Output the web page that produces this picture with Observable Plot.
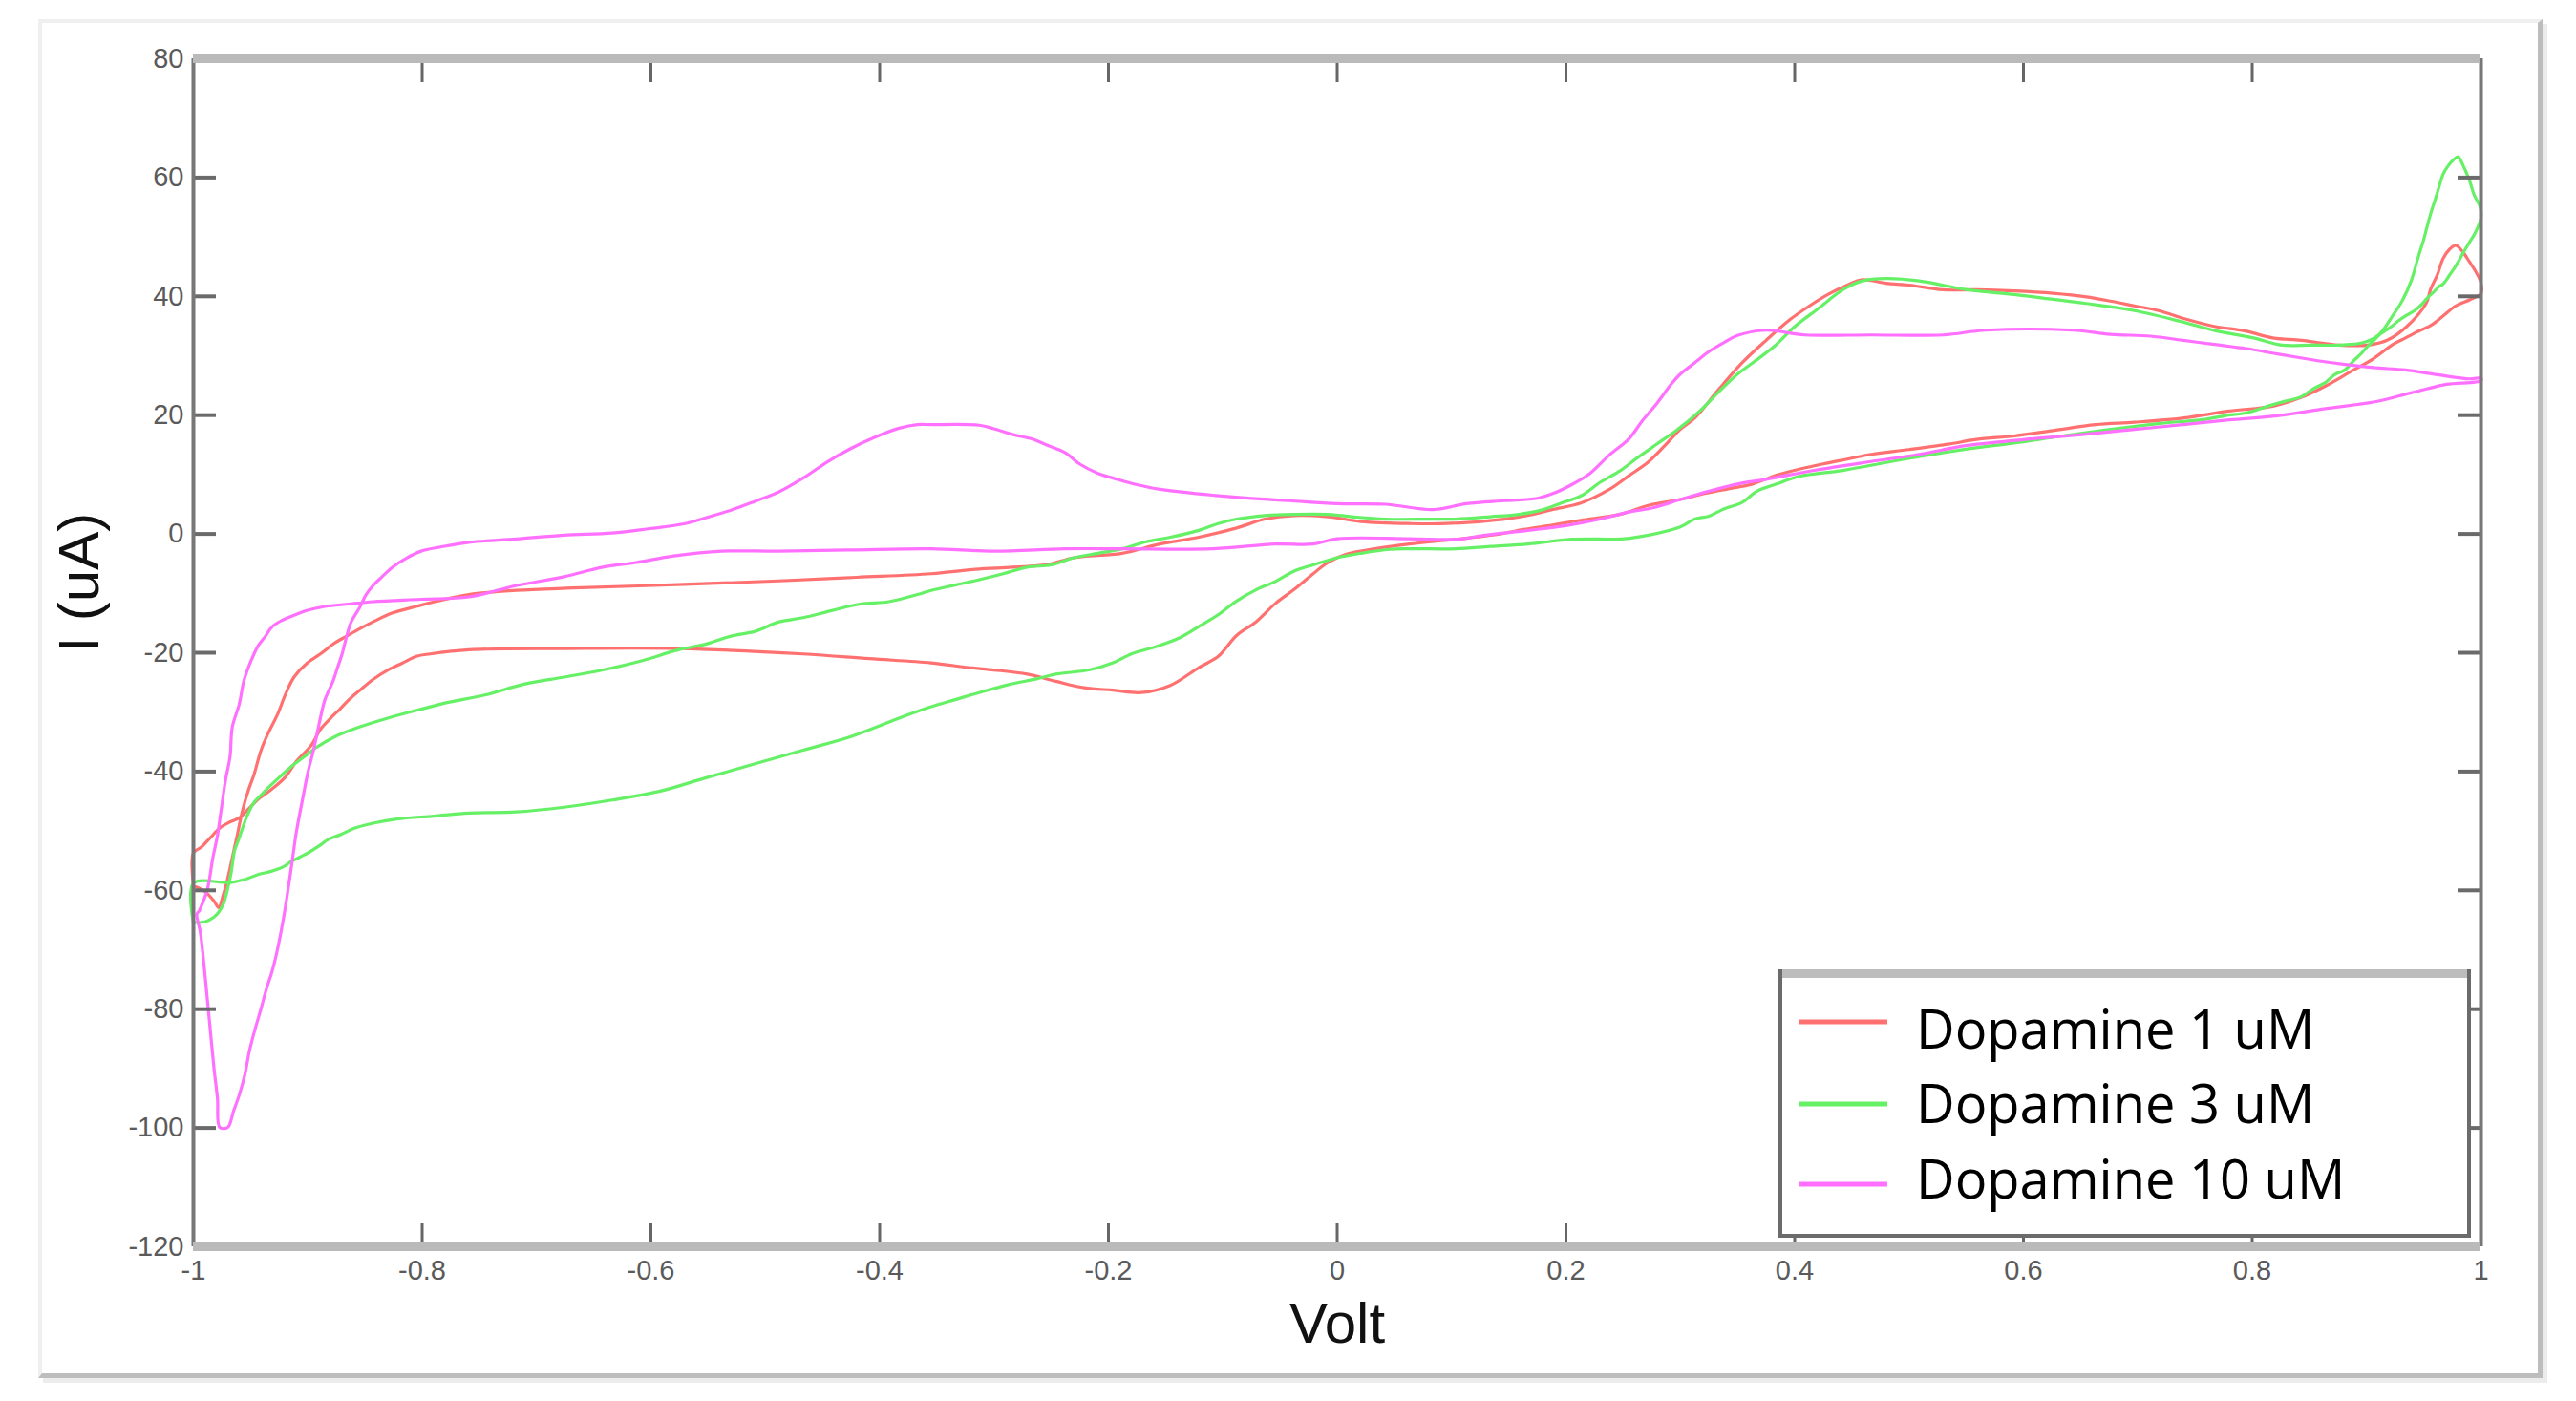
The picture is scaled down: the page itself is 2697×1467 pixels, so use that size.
<!DOCTYPE html>
<html>
<head>
<meta charset="utf-8">
<script src="https://cdn.jsdelivr.net/npm/d3@7"></script>
<script src="https://cdn.jsdelivr.net/npm/@observablehq/plot@0.6"></script>
<style>
html, body { margin: 0; padding: 0; background: #fff; width: 2697px; height: 1467px; overflow: hidden; }
#wrap { position: relative; width: 2697px; height: 1467px; }
#frame { position: absolute; left: 40px; top: 20px; width: 2622px; height: 1423px; box-sizing: border-box;
  border-top: 4px solid #efefef; border-left: 4px solid #efefef; border-right: 5px solid #bdbdbd; border-bottom: 5px solid #bdbdbd;
  box-shadow: 5px 5px 0 #ececec; }
#chart { position: absolute; left: 0; top: 0; }
#legend { position: absolute; left: 1862px; top: 1015px; }
</style>
</head>
<body>
<div id="wrap">
  <div id="frame"></div>
  <div id="chart"></div>
  <div id="legend"></div>
</div>
<script>
// ---------- data (Volt, current in uA), each series traced in sweep order ----------
const seriesNames = ["Dopamine 1 uM", "Dopamine 3 uM", "Dopamine 10 uM"];
const seriesColors = ["#ff7070", "#66f066", "#ff70ff"];

const red1uM = [
  [-0.998,-59.4],[-0.99,-60.2],[-0.982,-61.8],[-0.978,-62.9],[-0.974,-60.8],[-0.970,-58.0],[-0.966,-54.5],[-0.962,-51.0],
  [-0.957,-46.5],[-0.952,-43.2],[-0.947,-40.5],[-0.941,-36.5],[-0.935,-33.7],[-0.926,-30.2],[-0.920,-27.2],[-0.912,-24.1],
  [-0.901,-21.8],[-0.889,-20.2],[-0.876,-18.3],[-0.866,-17.2],[-0.855,-16.0],[-0.843,-14.8],[-0.826,-13.3],[-0.805,-12.2],
  [-0.789,-11.4],[-0.759,-10.2],[-0.718,-9.5],[-0.668,-9.1],[-0.571,-8.5],[-0.488,-7.9],[-0.420,-7.3],[-0.355,-6.7],
  [-0.313,-5.9],[-0.255,-5.2],[-0.230,-4.0],[-0.188,-3.25],[-0.155,-1.7],[-0.121,-0.55],[-0.088,1.0],[-0.063,2.5],
  [-0.038,3.1],[-0.008,2.9],[0.021,2.1],[0.063,1.75],[0.096,1.75],[0.146,2.5],[0.171,3.3],[0.188,4.1],[0.213,5.2],
  [0.238,7.5],[0.255,9.8],[0.272,12.1],[0.288,15.2],[0.300,17.6],[0.3125,19.5],[0.333,24.2],[0.354,28.8],[0.375,32.6],
  [0.396,36.1],[0.413,38.4],[0.429,40.3],[0.446,41.9],[0.459,42.8],[0.480,42.2],[0.500,41.9],[0.530,41.1],[0.559,41.1],
  [0.592,40.9],[0.626,40.5],[0.655,39.9],[0.676,39.2],[0.697,38.4],[0.718,37.6],[0.743,36.1],[0.768,34.9],[0.793,34.2],
  [0.818,33.0],[0.843,32.6],[0.876,31.8],[0.901,31.8],[0.918,32.6],[0.935,34.9],[0.952,38.8],[0.956,41.2],[0.962,43.7],
  [0.967,46.4],[0.973,48.0],[0.978,48.6],[0.984,47.5],[0.990,45.8],[0.995,44.3],[1.000,42.3],
  [1.000,40.5],[0.990,39.4],[0.978,38.4],[0.967,36.7],[0.956,35.1],[0.945,34.1],[0.934,33.0],[0.923,31.9],[0.906,29.5],
  [0.885,27.2],[0.864,24.9],[0.843,23.0],[0.818,21.5],[0.780,20.7],[0.739,19.5],[0.697,18.8],[0.663,18.4],[0.626,17.4],
  [0.592,16.5],[0.559,15.9],[0.534,15.1],[0.500,14.2],[0.467,13.4],[0.446,12.6],[0.425,11.8],[0.404,10.9],[0.384,9.9],
  [0.363,8.4],[0.342,7.6],[0.321,6.8],[0.300,5.8],[0.272,4.8],[0.247,3.3],[0.213,2.3],[0.188,1.5],[0.163,0.75],[0.142,0],
  [0.104,-0.9],[0.063,-1.7],[0.033,-2.5],[0.008,-3.4],[-0.008,-4.8],[-0.021,-6.7],[-0.038,-9.4],[-0.054,-11.7],
  [-0.071,-14.8],[-0.088,-17.1],[-0.104,-20.6],[-0.121,-22.5],[-0.146,-25.5],[-0.171,-26.7],[-0.196,-26.3],[-0.221,-25.9],
  [-0.246,-24.8],[-0.271,-23.6],[-0.300,-22.9],[-0.322,-22.5],[-0.355,-21.7],[-0.409,-21.0],[-0.467,-20.2],[-0.576,-19.3],
  [-0.676,-19.3],[-0.759,-19.5],[-0.793,-20.2],[-0.805,-20.6],[-0.818,-21.8],[-0.830,-22.9],[-0.843,-24.5],[-0.855,-26.4],
  [-0.864,-27.9],[-0.872,-29.5],[-0.880,-31.0],[-0.889,-32.9],[-0.897,-35.6],[-0.910,-38.3],[-0.920,-41.0],[-0.933,-43.2],
  [-0.943,-44.6],[-0.960,-47.8],[-0.968,-48.5],[-0.977,-49.5],[-0.985,-51.1],[-0.993,-52.7],[-1.000,-53.7],[-1.000,-59.0]
];

const green3uM = [
  [-1.000,-65.4],[-0.990,-65.3],[-0.982,-64.5],[-0.978,-63.7],[-0.974,-62.4],[-0.970,-59.7],[-0.967,-57.0],[-0.964,-53.3],
  [-0.961,-51.7],[-0.957,-49.5],[-0.953,-47.4],[-0.947,-45.2],[-0.940,-43.8],[-0.935,-42.8],[-0.925,-41.0],[-0.914,-39.1],
  [-0.903,-37.5],[-0.893,-36.0],[-0.876,-34.1],[-0.855,-32.5],[-0.830,-31.0],[-0.801,-29.5],[-0.776,-28.3],[-0.747,-27.2],
  [-0.709,-25.2],[-0.676,-24.1],[-0.642,-22.9],[-0.609,-21.4],[-0.576,-19.5],[-0.551,-18.5],[-0.530,-17.2],[-0.509,-16.4],
  [-0.488,-14.8],[-0.467,-14.1],[-0.442,-12.9],[-0.417,-11.8],[-0.392,-11.4],[-0.367,-10.2],[-0.355,-9.5],[-0.334,-8.6],
  [-0.313,-7.7],[-0.292,-6.7],[-0.271,-5.6],[-0.250,-5.2],[-0.230,-4.0],[-0.209,-3.25],[-0.188,-2.5],[-0.167,-1.3],
  [-0.146,-0.55],[-0.121,0.6],[-0.104,1.75],[-0.088,2.5],[-0.063,3.1],[-0.038,3.3],[-0.008,3.3],[0.013,2.9],[0.042,2.5],
  [0.084,2.5],[0.104,2.5],[0.134,2.9],[0.159,3.3],[0.180,4.1],[0.196,5.2],[0.213,6.4],[0.230,8.7],[0.247,10.6],
  [0.263,12.9],[0.280,15.2],[0.297,17.5],[0.317,20.7],[0.333,23.8],[0.350,26.9],[0.371,29.9],[0.384,31.9],[0.400,34.9],
  [0.421,38.0],[0.442,41.1],[0.459,42.6],[0.480,43.0],[0.509,42.6],[0.551,41.1],[0.592,40.3],[0.626,39.5],[0.655,38.8],
  [0.697,37.6],[0.739,35.7],[0.768,34.2],[0.801,33.0],[0.826,31.8],[0.851,31.8],[0.876,31.8],[0.897,32.2],[0.910,33.4],
  [0.922,36.5],[0.931,39.2],[0.939,42.6],[0.945,46.5],[0.950,49.6],[0.953,51.8],[0.956,53.9],[0.960,56.3],[0.963,58.2],
  [0.967,60.6],[0.971,61.9],[0.976,63.0],[0.980,63.5],[0.984,62.2],[0.990,59.5],[0.994,57.1],[0.999,55.2],[1.000,54.4],
  [1.000,53.1],[0.995,50.7],[0.990,49.1],[0.985,47.5],[0.981,46.1],[0.977,44.8],[0.973,43.7],[0.967,42.1],[0.963,41.6],
  [0.959,40.8],[0.953,39.7],[0.948,38.6],[0.942,37.6],[0.935,36.8],[0.928,35.9],[0.923,35.1],[0.917,34.3],[0.911,33.5],
  [0.906,32.5],[0.900,31.4],[0.895,30.3],[0.889,29.2],[0.881,27.6],[0.872,26.8],[0.864,25.5],[0.853,24.4],[0.843,23.1],
  [0.828,22.3],[0.817,21.7],[0.795,20.4],[0.776,19.9],[0.759,19.3],[0.720,18.6],[0.676,17.6],[0.634,16.5],[0.592,15.3],
  [0.551,14.3],[0.496,12.6],[0.442,10.7],[0.404,9.7],[0.384,8.4],[0.367,7.2],[0.354,5.3],[0.338,4.2],[0.325,3.0],
  [0.3125,2.5],[0.300,1.2],[0.272,-0.2],[0.251,-0.8],[0.205,-0.9],[0.167,-1.7],[0.134,-2.1],[0.104,-2.5],[0.063,-2.5],
  [0.046,-2.6],[0.021,-3.25],[0.000,-4.0],[-0.021,-5.2],[-0.038,-6.3],[-0.054,-8.0],[-0.071,-9.4],[-0.088,-11.3],
  [-0.104,-13.6],[-0.121,-15.6],[-0.138,-17.5],[-0.159,-19.0],[-0.180,-20.2],[-0.196,-21.7],[-0.217,-22.9],[-0.246,-23.6],
  [-0.263,-24.4],[-0.288,-25.4],[-0.313,-26.7],[-0.334,-27.9],[-0.355,-29.1],[-0.383,-31.0],[-0.425,-34.1],[-0.467,-36.4],
  [-0.509,-38.7],[-0.551,-41.0],[-0.592,-43.3],[-0.634,-44.8],[-0.676,-46.0],[-0.718,-46.8],[-0.759,-47.0],[-0.790,-47.5],
  [-0.822,-48.0],[-0.843,-48.7],[-0.860,-49.6],[-0.871,-50.6],[-0.882,-51.4],[-0.890,-52.5],[-0.899,-53.6],[-0.907,-54.4],
  [-0.915,-55.2],[-0.921,-56.0],[-0.932,-56.8],[-0.943,-57.3],[-0.954,-58.1],[-0.968,-58.7],[-1.000,-58.8],[-1.000,-65.4]
];

const magenta10uM = [
  [-0.995,-63.5],[-0.988,-60.0],[-0.983,-54.5],[-0.979,-50.8],[-0.976,-46.8],[-0.972,-41.5],[-0.968,-37.5],[-0.966,-32.5],
  [-0.960,-28.7],[-0.956,-24.8],[-0.952,-22.5],[-0.947,-20.2],[-0.943,-18.7],[-0.937,-17.2],[-0.931,-15.6],[-0.922,-14.5],
  [-0.912,-13.7],[-0.901,-12.9],[-0.885,-12.2],[-0.864,-11.8],[-0.843,-11.4],[-0.801,-11.0],[-0.759,-10.6],[-0.718,-8.7],
  [-0.676,-7.2],[-0.642,-5.6],[-0.613,-4.8],[-0.580,-3.7],[-0.538,-2.9],[-0.488,-2.9],[-0.425,-2.7],[-0.355,-2.5],
  [-0.300,-2.9],[-0.238,-2.5],[-0.188,-2.5],[-0.109,-2.5],[-0.054,-1.7],[-0.021,-1.7],[0.000,-0.8],[0.063,-0.8],
  [0.104,-0.9],[0.130,-0.2],[0.167,0.6],[0.200,1.4],[0.230,2.5],[0.255,3.7],[0.276,4.4],[0.300,5.8],[0.325,7.2],
  [0.350,8.4],[0.375,9.2],[0.417,10.7],[0.467,12.2],[0.509,13.4],[0.551,14.9],[0.613,16.1],[0.655,16.8],[0.697,17.6],
  [0.739,18.4],[0.780,19.2],[0.822,19.9],[0.864,21.1],[0.906,22.2],[0.928,23.2],[0.950,24.3],[0.970,25.2],[1.000,25.8],
  [1.000,26.2],[0.990,26.1],[0.962,26.8],[0.934,27.6],[0.906,28.0],[0.878,28.6],[0.850,29.4],[0.822,30.3],[0.795,31.2],
  [0.767,31.9],[0.739,32.6],[0.711,33.3],[0.676,33.6],[0.643,34.3],[0.567,34.3],[0.530,33.5],[0.467,33.5],[0.409,33.5],
  [0.375,34.3],[0.350,33.4],[0.338,32.2],[0.325,30.7],[0.3125,28.8],[0.300,26.9],[0.292,25.2],[0.280,22.1],[0.267,19.1],
  [0.255,16.0],[0.238,13.3],[0.221,10.2],[0.205,8.3],[0.188,6.75],[0.175,6.0],[0.146,5.6],[0.113,5.1],[0.084,4.1],
  [0.042,5.0],[0.000,5.1],[-0.042,5.6],[-0.083,6.1],[-0.121,6.75],[-0.155,7.5],[-0.175,8.3],[-0.192,9.2],[-0.209,10.2],
  [-0.225,11.75],[-0.238,13.7],[-0.255,15.05],[-0.267,16.0],[-0.284,16.75],[-0.300,17.7],[-0.313,18.3],[-0.355,18.4],
  [-0.367,18.4],[-0.383,17.8],[-0.404,16.3],[-0.425,14.4],[-0.446,12.1],[-0.467,9.4],[-0.488,7.1],[-0.509,5.5],
  [-0.530,4.0],[-0.551,2.8],[-0.571,1.7],[-0.601,0.9],[-0.634,0.15],[-0.676,-0.2],[-0.718,-0.85],[-0.759,-1.4],
  [-0.784,-2.2],[-0.801,-2.9],[-0.814,-4.1],[-0.826,-5.6],[-0.835,-7.2],[-0.843,-8.7],[-0.849,-10.2],[-0.855,-12.5],
  [-0.862,-14.8],[-0.866,-17.2],[-0.870,-20.2],[-0.874,-22.5],[-0.878,-24.8],[-0.885,-27.9],[-0.889,-31.0],[-0.895,-36.4],
  [-0.900,-40.2],[-0.904,-44.1],[-0.910,-50.2],[-0.914,-55.6],[-0.920,-63.3],[-0.926,-69.5],[-0.931,-73.5],[-0.936,-76.5],
  [-0.941,-80.0],[-0.946,-83.3],[-0.951,-87.0],[-0.955,-91.0],[-0.960,-94.5],[-0.965,-97.2],[-0.970,-99.9],[-0.977,-99.9],
  [-0.979,-95.0],[-0.982,-90.0],[-0.985,-84.0],[-0.988,-78.0],[-0.991,-72.0],[-0.994,-67.0],[-0.997,-64.0],[-0.995,-63.5]
];

const xTicks = [-1, -0.8, -0.6, -0.4, -0.2, 0, 0.2, 0.4, 0.6, 0.8, 1];
const xTickLabels = ["-1", "-0.8", "-0.6", "-0.4", "-0.2", "0", "0.2", "0.4", "0.6", "0.8", "1"];
const yTicks = [80, 60, 40, 20, 0, -20, -40, -60, -80, -100, -120];
const yTickLabels = ["80", "60", "40", "20", "0", "-20", "-40", "-60", "-80", "-100", "-120"];
const xTitle = "Volt";
const yTitle = "I (uA)";

// ---------- build table ----------
const seriesData = [red1uM, green3uM, magenta10uM];
const rows = [];
seriesData.forEach((pts, s) => pts.forEach(([v, i]) => rows.push({series: seriesNames[s], v, i})));

// ---------- layout ----------
const W = 2697, H = 1467;
const mL = 202, mR = W - 2597, mT = 61, mB = H - 1305;
const plotW = W - mL - mR, plotH = H - mT - mB;
const tickFont = "'Liberation Sans', Arial, sans-serif";

const innerX = xTicks.slice(1, -1);
const innerY = yTicks.slice(1, -1);

const chart = Plot.plot({
  width: W, height: H,
  marginLeft: mL, marginRight: mR, marginTop: mT, marginBottom: mB,
  style: {background: "transparent", fontFamily: tickFont, overflow: "visible"},
  x: {domain: [xTicks[0], xTicks[xTicks.length - 1]], axis: null},
  y: {domain: [yTicks[yTicks.length - 1], yTicks[0]], axis: null},
  color: {domain: seriesNames, range: seriesColors},
  marks: [
    Plot.line(rows, {x: "v", y: "i", z: "series", stroke: "series", strokeWidth: 3.2, curve: "catmull-rom"}),
    // inward ticks
    Plot.tickX(innerX, {x: d => d, stroke: "#666", strokeWidth: 3, insetBottom: plotH - 25}),
    Plot.tickX(innerX, {x: d => d, stroke: "#666", strokeWidth: 3, insetTop: plotH - 24}),
    Plot.tickY(innerY, {y: d => d, stroke: "#6a6a6a", strokeWidth: 4, insetRight: plotW - 24}),
    Plot.tickY(innerY, {y: d => d, stroke: "#6a6a6a", strokeWidth: 4, insetLeft: plotW - 24}),
    // plot box
    Plot.ruleX([xTicks[0], xTicks[xTicks.length - 1]], {x: d => d, stroke: "#777", strokeWidth: 4}),
    Plot.ruleY([yTicks[0], yTicks[yTicks.length - 1]], {y: d => d, stroke: "#bababa", strokeWidth: 9}),
    // tick labels
    Plot.text(xTicks, {x: d => d, text: (d, k) => xTickLabels[k], frameAnchor: "bottom", lineAnchor: "top",
      dy: 14, fontSize: 29, fill: "#5a5a5a"}),
    Plot.text(yTicks, {y: d => d, text: (d, k) => yTickLabels[k], frameAnchor: "left", textAnchor: "end",
      lineAnchor: "middle", dx: -10, fontSize: 29, fill: "#5a5a5a"}),
    // axis titles
    Plot.text([xTitle], {text: d => d, frameAnchor: "bottom", lineAnchor: "bottom", dy: 100, fontSize: 60, fill: "#111"}),
    Plot.text([yTitle], {text: d => d, frameAnchor: "left", rotate: -90, lineAnchor: "top", dx: -142, fontSize: 60, fill: "#111"})
  ]
});
document.getElementById("chart").appendChild(chart);

// ---------- legend (drawn inside the plot area, lower right) ----------
const LW = 725, LH = 281;
const lg = d3.select("#legend").append("svg").attr("width", LW).attr("height", LH);
lg.append("rect").attr("x", 0).attr("y", 0).attr("width", LW).attr("height", LH).attr("fill", "#fff");
lg.append("line").attr("x1", 0).attr("x2", LW).attr("y1", 4.5).attr("y2", 4.5).attr("stroke", "#bdbdbd").attr("stroke-width", 9);
lg.append("line").attr("x1", 2).attr("x2", 2).attr("y1", 0).attr("y2", LH).attr("stroke", "#6b6b6b").attr("stroke-width", 4);
lg.append("line").attr("x1", LW - 2).attr("x2", LW - 2).attr("y1", 0).attr("y2", LH).attr("stroke", "#6b6b6b").attr("stroke-width", 4);
lg.append("line").attr("x1", 0).attr("x2", LW).attr("y1", LH - 2).attr("y2", LH - 2).attr("stroke", "#6b6b6b").attr("stroke-width", 4);
const lineY = [55, 141, 225];
const textY = [83, 161, 240];
seriesNames.forEach((name, k) => {
  lg.append("line").attr("x1", 21).attr("x2", 114).attr("y1", lineY[k]).attr("y2", lineY[k])
    .attr("stroke", seriesColors[k]).attr("stroke-width", 5);
  lg.append("text").attr("x", 144).attr("y", textY[k]).text(name)
    .attr("font-family", "'Open Sans', 'Noto Sans', sans-serif").attr("font-size", 56).attr("fill", "#000");
});
</script>
</body>
</html>
